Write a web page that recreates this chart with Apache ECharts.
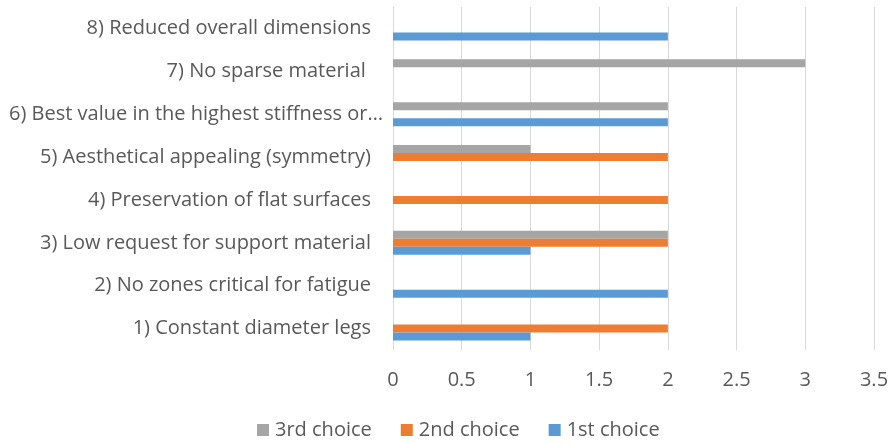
<!DOCTYPE html>
<html>
<head>
<meta charset="utf-8">
<script src="https://cdn.jsdelivr.net/npm/echarts@6/dist/echarts.min.js"></script>
<style>
  html, body { margin: 0; padding: 0; background: #fff; }
  #chart { width: 894px; height: 445px; }
</style>
</head>
<body>
<div id="chart"></div>
<script>
// Design criteria, listed bottom to top on the category axis
const categories = [
  '1) Constant diameter legs',
  '2) No zones critical for fatigue',
  '3) Low request for support material',
  '4) Preservation of flat surfaces',
  '5) Aesthetical appealing (symmetry)',
  '6) Best value in the highest stiffness or…',
  '7) No sparse material ',
  '8) Reduced overall dimensions'
];

// Number of times each criterion was ranked at each position
const firstChoice  = [1, 2, 1, 0, 0, 2, 0, 2];
const secondChoice = [2, 0, 2, 2, 2, 0, 0, 0];
const thirdChoice  = [0, 0, 2, 0, 1, 2, 3, 0];

const xTicks = { min: 0, max: 3.5, interval: 0.5 };

const textColor = '#595959';
const fontFamily = 'Open Sans, sans-serif';

const chart = echarts.init(document.getElementById('chart'));

function barSeries(name, data, color) {
  return {
    name: name,
    type: 'bar',
    data: data,
    barWidth: 8,
    barGap: '0%',
    itemStyle: { color: color },
    emphasis: { disabled: true }
  };
}

// the truncated label runs a little closer to the axis than the others
const yAxisData = categories.map(function (c) {
  if (c.endsWith('…')) {
    return { value: c, textStyle: { padding: [0, -12, 0, 0] } };
  }
  return c;
});

chart.setOption({
  animation: false,
  textStyle: { fontFamily: fontFamily },
  grid: { left: 393, right: 20, top: 7, bottom: 95, containLabel: false },
  xAxis: {
    type: 'value',
    min: xTicks.min,
    max: xTicks.max,
    interval: xTicks.interval,
    axisLine: { show: false },
    axisTick: { show: false },
    axisLabel: { color: textColor, fontSize: 20, margin: 20 },
    splitLine: { lineStyle: { color: '#D9D9D9', width: 1 } }
  },
  yAxis: {
    type: 'category',
    data: yAxisData,
    axisLine: { show: true, lineStyle: { color: '#D9D9D9' } },
    axisTick: { show: false },
    axisLabel: { color: textColor, fontSize: 20, margin: 22 }
  },
  legend: {
    bottom: 0,
    left: 252,
    itemWidth: 12,
    itemHeight: 12,
    itemGap: 29,
    icon: 'rect',
    textStyle: { color: textColor, fontSize: 20, padding: [0, 0, 0, 1] },
    data: ['3rd choice', '2nd choice', '1st choice']
  },
  // top-to-bottom order inside each group: 3rd, 2nd, 1st
  series: [
    barSeries('3rd choice', thirdChoice, '#A5A5A5'),
    barSeries('2nd choice', secondChoice, '#ED7D31'),
    barSeries('1st choice', firstChoice, '#5B9BD5')
  ]
});
</script>
</body>
</html>
